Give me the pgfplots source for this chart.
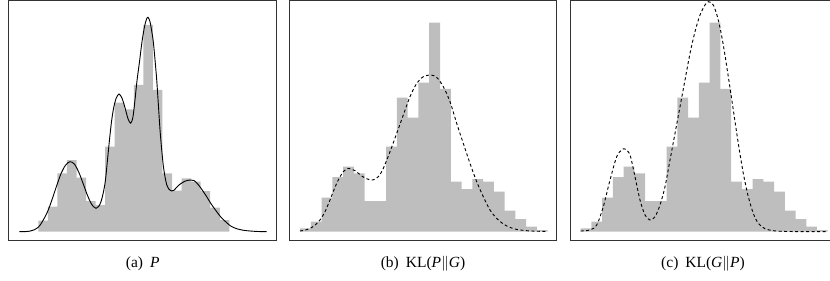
\documentclass[border=0pt]{standalone}
\usepackage{fontspec}
\setmainfont{Liberation Serif}
\usepackage{pgfplots}
\pgfplotsset{compat=1.18}
\definecolor{histgray}{RGB}{190,190,190}
\pgfplotsset{panel/.style={scale only axis, height=143.4pt, ticks=none,
  axis line style={black!80, line width=0.6pt}, ymin=-8.3, ymax=230.7,
  anchor=south west, clip=true},
  dens/.style={black, line width=0.55pt, smooth, tension=0.5},
  ddens/.style={black, line width=0.55pt, smooth, tension=0.5, dash pattern=on 1.8pt off 1.5pt}}
\begin{document}
\begin{tikzpicture}
\useasboundingbox (0pt,0pt) rectangle (498pt,-168.6pt);
\clip (0pt,0pt) rectangle (498pt,-168.6pt);
% ---------- (a)
\begin{axis}[panel, at={(5.22pt,-144pt)}, width=160.8pt, xmin=8.7, xmax=276.7]
\addplot[const plot, fill=histgray, draw=none] coordinates {(38.3,11) (47.85,25) (57.4,58.3) (66.95,71.7) (76.5,54) (86.05,30.7) (95.6,26.7) (105.15,85) (114.7,129) (124.25,122.3) (133.8,146.7) (143.35,206.7) (152.9,141.7) (162.45,58.3) (172.0,41) (181.55,53.3) (191.1,50) (200.65,40.7) (210.2,24) (219.75,11.7) (229.3,11.7)} \closedcycle;
\addplot[dens] coordinates {(19.3,0) (25,0.1) (30,0.6) (34,1.8) (38.3,4.5) (42,9.5) (47.3,19.5) (52,32) (56.7,46) (61,58) (65.5,66.5) (70,70) (74.5,67.5) (79,59) (83,48.5) (87,37.5) (90.5,29.5) (93.5,25) (96,23.4) (98.5,25) (101,30) (103.5,40) (105.5,52) (107.5,72) (109.5,92) (111.5,110) (113.5,123) (116,133) (119,137.7) (122,133.5) (125,124) (128,113) (130.7,108.5) (133,115) (135,132) (137,151) (139.5,170) (142,190) (144.5,205) (146.5,212.5) (148,214.4) (150,210) (151.8,200) (153.3,190) (155,172) (156.7,152) (158.3,128) (160,102) (161.7,82) (163.3,66) (165,55) (166.7,47) (169,42.5) (171.7,40.7) (174,41.5) (176.7,44.5) (180,47.5) (185,50.5) (190,51.7) (194,51.2) (198.3,47) (202,42) (206.7,35) (211,28) (216.7,20) (221,14.5) (226.7,9) (231,5.5) (236.7,3) (243,1.5) (250,0.7) (258,0.2) (266.7,0)};
\end{axis}
% ---------- (b)
\begin{axis}[panel, at={(173.58pt,-144pt)}, width=160.44pt, xmin=289.3, xmax=556.7]
\addplot[const plot, fill=histgray, draw=none] coordinates {(300,3.3) (310.77,10) (321.54,34) (332.31,54.7) (343.08,65) (353.85,58.3) (364.62,30.7) (375.39,30.7) (386.16,85) (396.93,134) (407.7,114) (418.47,149) (429.24,209) (440.01,142.7) (450.78,50) (461.55,42.7) (472.32,52.7) (483.09,50) (493.86,40) (504.63,21) (515.4,12.7) (526.17,5) (536.94,1.7) (547.71,1.7)} \closedcycle;
\addplot[ddens] coordinates {(300,0.7) (305,1.6) (310,3.3) (315,6.5) (320,11.7) (325,20) (330,31.7) (334,42) (338.3,51.7) (343.3,60) (348.3,63.3) (355,61) (361.7,55.7) (367.3,52.7) (372.7,51.7) (378.3,55) (383.3,63.3) (390,80) (396.7,98.3) (403.3,116.7) (410,135) (416.7,148.3) (423.3,155) (430.7,156.7) (436.7,154.3) (443.3,145) (450,130) (456.7,108.3) (463.3,88.3) (470,68.3) (476.7,50) (483.3,35) (490,21.7) (496.7,13.3) (503.3,7.7) (510,4.3) (516.7,2.3) (526.7,1) (536.7,0.5) (547.7,0.2)};
\end{axis}
% ---------- (c)
\begin{axis}[panel, at={(342.42pt,-144pt)}, width=160.44pt, xmin=570.7, xmax=838.1]
\addplot[const plot, fill=histgray, draw=none] coordinates {(580.7,3.3) (591.44,10) (602.18,34) (612.92,54.7) (623.66,65) (634.4,58.3) (645.14,30.7) (655.88,30.7) (666.62,85) (677.36,134) (688.1,114) (698.84,149) (709.58,209) (720.32,142.7) (731.06,50) (741.8,42.7) (752.54,52.7) (763.28,50) (774.02,40) (784.76,21) (795.5,12.7) (806.24,5) (816.98,1.7) (827.72,1.7)} \closedcycle;
\addplot[ddens] coordinates {(580.7,0.7) (590,1.7) (596.7,6.7) (603.3,25) (610,51.7) (616.7,75) (621.7,81.7) (625,82.7) (630,76.7) (635,55) (640,31.7) (645,16.7) (650,11.7) (655,15) (660,26.7) (665,45) (670,71.7) (675,98.3) (680,125) (685,151.7) (690,178.3) (695,200) (700,216.7) (705,226.7) (708.3,230) (713.3,226.7) (718.3,211.7) (723.3,186.7) (728.3,155) (733.3,121.7) (738.3,88.3) (743.3,58.3) (748.3,35) (753.3,18.3) (758.3,8.3) (765,3) (773.3,1) (783.3,0.3) (800,0.1) (827.7,0)};
\end{axis}
% ---------- captions
\begin{scope}[every node/.style={anchor=base, font=\fontsize{9.3}{11}\selectfont}]
\node at (85.62pt,-160.2pt) {(a)\hspace{0.45em}\textit{P}};
\node at (253.8pt,-160.2pt) {(b)\hspace{0.45em}KL(\textit{P}$\|$\textit{G})};
\node at (421.8pt,-160.2pt) {(c)\hspace{0.45em}KL(\textit{G}$\|$\textit{P})};
\end{scope}
\end{tikzpicture}
\end{document}
